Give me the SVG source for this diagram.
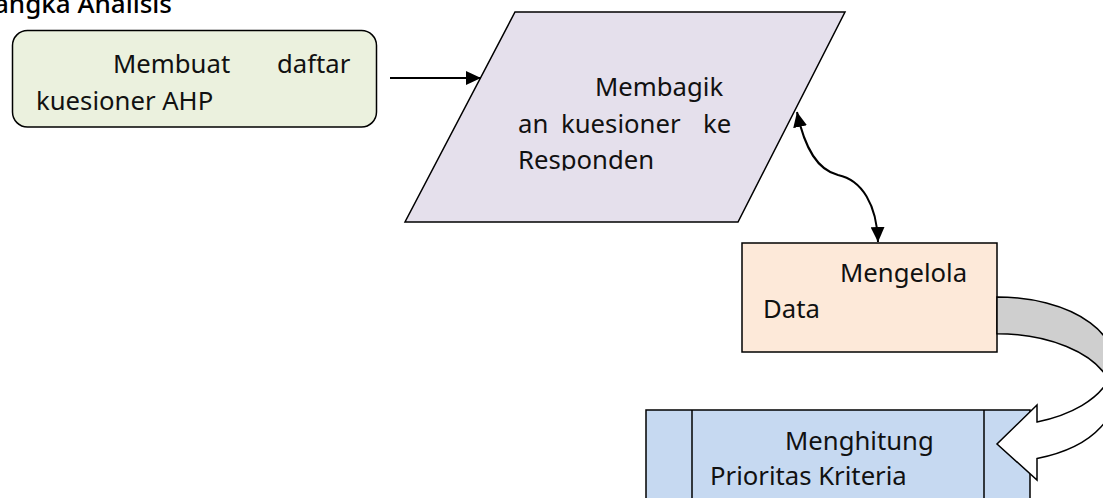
<svg xmlns="http://www.w3.org/2000/svg" width="1103" height="498" viewBox="0 0 1103 498">
  <style>
    .shape { stroke: #000; stroke-width: 1.5; }
    .label { font-family: "Noto Sans", "Open Sans", sans-serif; font-size: 25.7px; fill: #111; }
    .title { font-family: "Noto Sans", "Open Sans", sans-serif; font-size: 26px; font-weight: 500; fill: #000; }
    .conn { fill: none; stroke: #000; stroke-width: 2; }
    .block { stroke: #000; stroke-width: 1.5; stroke-linejoin: miter; }
  </style>
  <defs>
    <marker id="head" markerUnits="userSpaceOnUse" markerWidth="16" markerHeight="14" refX="15" refY="7" orient="auto-start-reverse">
      <path d="M0,0 L15,7 L0,14 z" fill="#000"/>
    </marker>
    <clipPath id="clipPara">
      <rect x="400" y="0" width="460" height="170.5"/>
    </clipPath>
  </defs>

  <rect width="1103" height="498" fill="#fff"/>

  <!-- heading, running off the top-left corner -->
  <text class="title" x="172" y="12.5" text-anchor="end">Kerangka Analisis</text>

  <!-- step 1 -->
  <g id="node-membuat">
    <rect class="shape" x="12.5" y="30.5" width="364" height="96.5" rx="15" fill="#ebf1de"/>
    <text class="label" x="113" y="73">Membuat</text>
    <text class="label" x="277" y="73">daftar</text>
    <text class="label" x="36" y="110">kuesioner AHP</text>
  </g>

  <!-- step 2 -->
  <g id="node-membagikan">
    <polygon class="shape" points="515,12 845,12 738,222 405,222" fill="#e5e0ec"/>
    <g clip-path="url(#clipPara)">
      <text class="label" x="595" y="95.5">Membagik</text>
      <text class="label" x="518" y="132.5">an</text>
      <text class="label" x="561" y="132.5">kuesioner</text>
      <text class="label" x="703" y="132.5">ke</text>
      <text class="label" x="518" y="169">Responden</text>
    </g>
  </g>

  <!-- step 3 -->
  <g id="node-mengelola">
    <rect class="shape" x="742" y="243" width="255" height="109" fill="#fde9d9"/>
    <text class="label" x="840" y="282">Mengelola</text>
    <text class="label" x="763" y="318">Data</text>
  </g>

  <!-- step 4: predefined-process box -->
  <g id="node-menghitung">
    <rect class="shape" x="646" y="410" width="384" height="110" fill="#c6d9f1"/>
    <line class="shape" x1="692" y1="410" x2="692" y2="498"/>
    <line class="shape" x1="984" y1="410" x2="984" y2="498"/>
    <text class="label" x="785" y="450">Menghitung</text>
    <text class="label" x="710" y="485">Prioritas Kriteria</text>
  </g>

  <g id="connectors">
    <line class="conn" x1="390" y1="78" x2="481" y2="78" marker-end="url(#head)"/>
    <path class="conn" d="M797,112 C805,150 818,170 838,175 C862,180 877,205 878,242" marker-start="url(#head)" marker-end="url(#head)"/>
    <!-- curved block arrow: back face (grey) and front face with head -->
    <path class="block" fill="#cfcfcf" d="M997,297 A116.3,64.4 0 0 1 1108.5,379.8 A116.3,64.4 0 0 0 997,333.7 Z"/>
    <path class="block" fill="#fff" d="M1108.5,379.8 A116.3,64.4 0 0 1 1037,421.9 L1037,405 L997,444 L1037,480 L1037,458.6 A116.3,64.4 0 0 0 1108.5,379.8 Z"/>
  </g>
</svg>
